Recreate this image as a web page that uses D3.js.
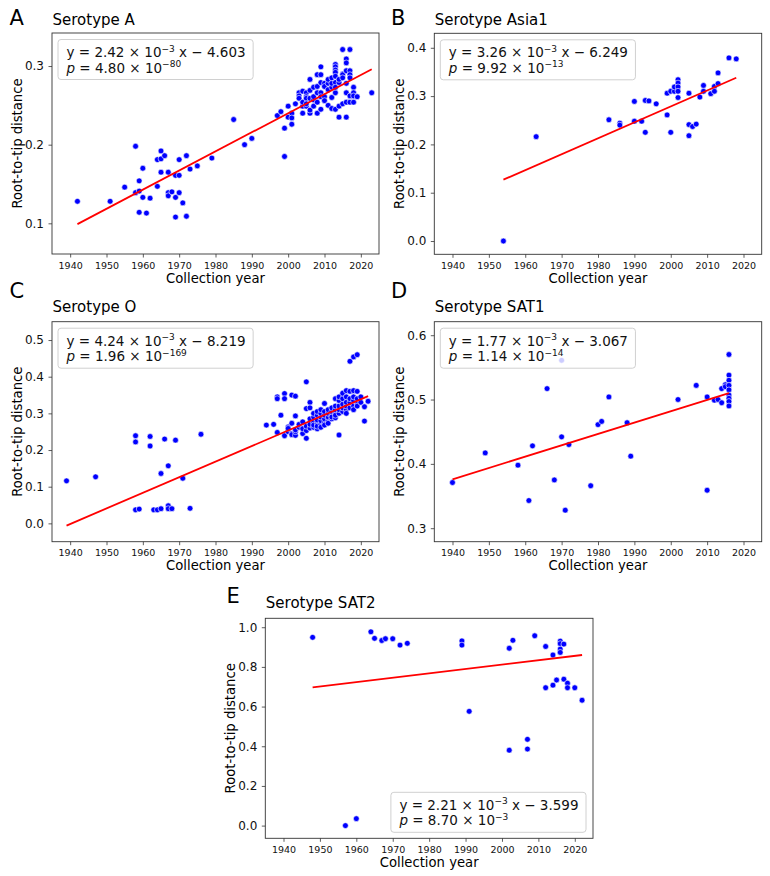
<!DOCTYPE html>
<html>
<head>
<meta charset="utf-8">
<script src="https://cdn.jsdelivr.net/npm/d3@7"></script>
<style>
  body { margin: 0; background: #fff; }
  svg text { font-family: "DejaVu Sans", sans-serif; }
</style>
</head>
<body>
<svg id="chart" width="770" height="876"></svg>
<script>
// root-to-tip distance vs collection year, one pair of arrays per serotype
const yearsA = [1942,1951,1955,1958,1958,1959,1959,1959,1960,1960,1961,1962,1964,1964,1965,1965,1965,1966,
  1967,1967,1967,1968,1969,1969,1969,1970,1970,1970,1971,1972,1972,1973,1975,1979,1985,1988,1990,1997,1998,
  1999,1999,2000,2000,2001,2001,2001,2002,2003,2003,2003,2004,2004,2004,2004,2005,2005,2005,2005,2005,
  2006,2006,2006,2006,2006,2007,2007,2007,2007,2008,2008,2008,2008,2008,2009,2009,2009,2009,2009,2009,
  2010,2010,2010,2010,2011,2011,2011,2011,2012,2012,2012,2012,2012,
  2013,2013,2013,2013,2013,2013,2013,2013,2013,2014,2014,2014,2014,2015,2015,2015,2015,2015,
  2016,2016,2016,2016,2016,2016,2016,2017,2017,2017,2017,2017,2017,2018,2018,2018,2018,2019,2023];
const distA = [0.128,0.128,0.146,0.198,0.139,0.154,0.141,0.114,0.170,0.133,0.113,0.132,0.181,0.147,0.192,0.182,0.165,0.186,
  0.165,0.139,0.135,0.140,0.161,0.133,0.108,0.181,0.161,0.139,0.126,0.186,0.109,0.169,0.173,0.183,0.232,0.200,0.208,0.237,0.242,
  0.185,0.221,0.249,0.235,0.240,0.234,0.226,0.252,0.266,0.262,0.259,0.240,0.249,0.254,0.268,0.266,0.261,0.249,0.259,0.252,
  0.283,0.269,0.259,0.240,0.244,0.273,0.257,0.249,0.261,0.289,0.266,0.254,0.240,0.274,0.299,0.289,0.279,0.266,0.261,0.245,
  0.278,0.261,0.256,0.274,0.278,0.250,0.270,0.283,0.273,0.278,0.260,0.246,0.285,
  0.302,0.299,0.295,0.292,0.287,0.279,0.266,0.245,0.273,0.279,0.249,0.283,0.235,0.321,0.290,0.289,0.252,0.285,
  0.309,0.304,0.294,0.278,0.254,0.235,0.266,0.321,0.294,0.289,0.285,0.254,0.262,0.273,0.266,0.254,0.262,0.261,0.266];

const yearsB = [1954,1963,1983,1986,1986,1990,1990,1992,1993,1993,1994,1996,1999,1999,2000,2000,2001,2001,
  2002,2002,2002,2002,2002,2005,2005,2005,2006,2007,2008,2009,2009,2011,2012,2012,2013,2013,2016,2018];
const distB = [0.000,0.216,0.251,0.244,0.240,0.289,0.248,0.248,0.291,0.225,0.290,0.284,0.306,0.261,0.225,0.310,0.310,0.319,
  0.334,0.327,0.319,0.310,0.297,0.306,0.241,0.218,0.237,0.242,0.298,0.322,0.310,0.305,0.320,0.310,0.348,0.326,0.379,0.377];

const yearsC = [1939,1947,1958,1958,1958,1959,1962,1962,1963,1964,1965,1965,1966,1967,1967,1967,1968,1969,1971,1973,1976,
  1994,1996,1997,1997,1997,1998,1999,1999,1999,2000,2000,2000,
  2001,2001,2001,2001,2002,2002,2002,2002,2002,2003,2003,2004,2004,2004,
  2005,2005,2005,2005,2005,2006,2006,2006,2006,2006,2007,2007,2007,2007,2007,
  2008,2008,2008,2008,2008,2008,2009,2009,2009,2009,2009,2009,2010,2010,2010,2010,2010,2010,
  2011,2011,2011,2011,2011,2012,2012,2012,2012,2012,2013,2013,2013,2013,2013,2013,
  2014,2014,2014,2014,2014,2014,2015,2015,2015,2015,2015,2016,2016,2016,2016,2016,2016,
  2017,2017,2017,2017,2017,2018,2018,2018,2018,2018,2018,2019,2019,2019,2019,2019,
  2020,2020,2021,2021,2022];
const distC = [0.116,0.127,0.239,0.222,0.037,0.039,0.237,0.211,0.037,0.037,0.040,0.136,0.230,0.157,0.048,0.040,0.040,0.227,0.123,0.041,0.243,
  0.268,0.270,0.345,0.340,0.248,0.295,0.354,0.340,0.239,0.263,0.250,0.259,
  0.350,0.273,0.245,0.242,0.347,0.293,0.240,0.250,0.255,0.262,0.270,0.277,0.245,0.258,
  0.386,0.232,0.253,0.313,0.265,0.330,0.315,0.260,0.270,0.285,0.262,0.275,0.290,0.300,0.268,
  0.258,0.272,0.282,0.295,0.305,0.265,0.270,0.280,0.290,0.300,0.310,0.262,0.275,0.285,0.295,0.305,0.327,0.268,
  0.280,0.290,0.300,0.310,0.273,0.285,0.295,0.305,0.315,0.290,0.300,0.310,0.320,0.340,0.288,0.295,
  0.241,0.300,0.310,0.320,0.335,0.345,0.305,0.315,0.325,0.340,0.355,0.310,0.320,0.330,0.345,0.300,0.362,
  0.442,0.315,0.330,0.340,0.360,0.454,0.320,0.335,0.345,0.362,0.310,0.460,0.325,0.340,0.360,0.320,
  0.330,0.345,0.279,0.318,0.333];

const yearsD = [1940,1949,1958,1961,1962,1966,1968,1970,1970,1971,1972,1978,1980,1981,1983,1988,1989,2002,2007,
  2010,2010,2012,2013,2014,2014,2015,2015,2016,2016,2016,2016,2016,2016,2016,2016,2016];
const distD = [0.371,0.417,0.398,0.343,0.428,0.517,0.375,0.442,0.561,0.328,0.430,0.366,0.461,0.466,0.504,0.464,0.412,0.500,0.522,
  0.504,0.359,0.499,0.500,0.517,0.495,0.523,0.520,0.570,0.538,0.530,0.522,0.515,0.507,0.502,0.497,0.490];

const yearsE = [1948,1957,1960,1964,1965,1967,1968,1970,1972,1974,1989,1989,1991,2002,2002,2003,2007,2007,2009,
  2012,2012,2014,2014,2015,2016,2016,2016,2016,2017,2017,2018,2018,2020,2022];
const distE = [0.949,0.000,0.035,0.977,0.944,0.933,0.942,0.942,0.910,0.919,0.931,0.910,0.576,0.894,0.380,0.934,0.435,0.386,0.957,
  0.903,0.695,0.860,0.708,0.734,0.930,0.917,0.890,0.873,0.915,0.738,0.718,0.695,0.695,0.632];

// fitted regression lines: [start year, start value, end year, end value]
const fitA = [1942, 0.099, 2023, 0.296];
const fitB = [1954, 0.127, 2018, 0.338];
const fitC = [1939, -0.006, 2022, 0.347];
const fitD = [1940, 0.376, 2016, 0.510];
const fitE = [1948, 0.697, 2022, 0.860];

// equation text pieces
const slopes = ["2.42", "3.26", "4.24", "1.77", "2.21"];
const intercepts = ["4.603", "6.249", "8.219", "3.067", "3.599"];
const pMantissas = ["4.80", "9.92", "1.96", "1.14", "8.70"];
const pExponents = ["\u221280", "\u221213", "\u2212169", "\u221214", "\u22123"];

const panelLetters = ["A", "B", "C", "D", "E"];
const panelTitles = ["Serotype A", "Serotype Asia1", "Serotype O", "Serotype SAT1", "Serotype SAT2"];

const xTicks = [1940, 1950, 1960, 1970, 1980, 1990, 2000, 2010, 2020];
const yTicksA = [0.1, 0.2, 0.3];
const yTicksB = [0.0, 0.1, 0.2, 0.3, 0.4];
const yTicksC = [0.0, 0.1, 0.2, 0.3, 0.4, 0.5];
const yTicksD = [0.3, 0.4, 0.5, 0.6];
const yTicksE = [0.0, 0.2, 0.4, 0.6, 0.8, 1.0];

const xDomain = [1935, 2025];

const panels = [
  { years: yearsA, dist: distA, fit: fitA, ticks: yTicksA, ylim: [0.061, 0.342],
    left: 52, top: 33, right: 379, bottom: 254, letterPos: [9.5, 25], titleY: 24.5, legend: "ul" },
  { years: yearsB, dist: distB, fit: fitB, ticks: yTicksB, ylim: [-0.0275, 0.43],
    left: 434.3, top: 33.3, right: 761.7, bottom: 254.3, letterPos: [391, 25], titleY: 24.5, legend: "ul" },
  { years: yearsC, dist: distC, fit: fitC, ticks: yTicksC, ylim: [-0.05, 0.55],
    left: 52, top: 321.7, right: 379, bottom: 541.7, letterPos: [9.5, 297.5], titleY: 311.7, legend: "ul" },
  { years: yearsD, dist: distD, fit: fitD, ticks: yTicksD, ylim: [0.279, 0.621],
    left: 434.3, top: 321.7, right: 761.7, bottom: 541.7, letterPos: [391, 297.5], titleY: 311.7, legend: "ul" },
  { years: yearsE, dist: distE, fit: fitE, ticks: yTicksE, ylim: [-0.064, 1.045],
    left: 265.3, top: 618.3, right: 593, bottom: 838.3, letterPos: [226.5, 603.3], titleY: 607.7, legend: "lr" }
];

const svg = d3.select("#chart");
const frameColor = "#333";

function drawPanel(p, i) {
  const x = d3.scaleLinear().domain(xDomain).range([p.left, p.right]);
  const y = d3.scaleLinear().domain(p.ylim).range([p.bottom, p.top]);
  const g = svg.append("g");

  // x axis
  const gx = g.append("g")
    .attr("transform", "translate(0," + p.bottom + ")")
    .call(d3.axisBottom(x).tickValues(xTicks).tickFormat(d3.format("d")).tickSize(3.5).tickPadding(4.5));
  gx.select(".domain").remove();
  gx.selectAll("line").attr("stroke", frameColor).attr("stroke-width", 0.8);
  gx.selectAll("text").attr("font-size", 9.5).attr("font-family", "DejaVu Sans").attr("fill", "#111");

  // y axis
  const gy = g.append("g")
    .attr("transform", "translate(" + p.left + ",0)")
    .call(d3.axisLeft(y).tickValues(p.ticks).tickFormat(d3.format(".1f")).tickSize(3.5).tickPadding(4.5));
  gy.select(".domain").remove();
  gy.selectAll("line").attr("stroke", frameColor).attr("stroke-width", 0.8);
  gy.selectAll("text").attr("font-size", 12).attr("font-family", "DejaVu Sans").attr("fill", "#111");

  // axis labels
  g.append("text")
    .attr("x", (p.left + p.right) / 2)
    .attr("y", p.bottom + 28.5)
    .attr("text-anchor", "middle")
    .attr("font-size", 13.2)
    .text("Collection year");
  g.append("text")
    .attr("transform", "translate(" + (p.left - 30.5) + "," + (p.top + p.bottom) / 2 + ") rotate(-90)")
    .attr("text-anchor", "middle")
    .attr("font-size", 13.2)
    .text("Root-to-tip distance");

  // title + panel letter
  g.append("text")
    .attr("x", p.left + 0.5)
    .attr("y", p.titleY)
    .attr("font-size", 15)
    .text(panelTitles[i]);
  g.append("text")
    .attr("x", p.letterPos[0])
    .attr("y", p.letterPos[1])
    .attr("font-size", 21)
    .text(panelLetters[i]);

  // scatter
  const pts = p.years.map((yr, k) => ({ yr: yr, v: p.dist[k] }));
  g.append("g").selectAll("circle")
    .data(pts)
    .enter()
    .append("circle")
    .attr("cx", (d) => x(d.yr))
    .attr("cy", (d) => y(d.v))
    .attr("r", 2.9)
    .attr("fill", "#0000ff")
    .attr("stroke", "#fff")
    .attr("stroke-width", 0.6);

  // regression line
  g.append("line")
    .attr("x1", x(p.fit[0])).attr("y1", y(p.fit[1]))
    .attr("x2", x(p.fit[2])).attr("y2", y(p.fit[3]))
    .attr("stroke", "#ff0000")
    .attr("stroke-width", 1.8);

  // frame
  g.append("rect")
    .attr("x", p.left).attr("y", p.top)
    .attr("width", p.right - p.left).attr("height", p.bottom - p.top)
    .attr("fill", "none")
    .attr("stroke", frameColor)
    .attr("stroke-width", 0.9);

  // equation box
  const lg = g.append("g");
  const box = lg.append("rect");
  const txt = lg.append("text").attr("font-size", 13.5).attr("fill", "#111");
  const l1 = txt.append("tspan").attr("x", 0).attr("y", 0);
  l1.append("tspan").text("y = " + slopes[i] + " \u00d7 10");
  l1.append("tspan").attr("font-size", 9).attr("dy", -5.5).text("\u22123");
  l1.append("tspan").attr("dy", 5.5).text(" x \u2212 " + intercepts[i]);
  const l2 = txt.append("tspan").attr("x", 0).attr("y", 15.5);
  l2.append("tspan").attr("font-style", "italic").text("p");
  l2.append("tspan").text(" = " + pMantissas[i] + " \u00d7 10");
  l2.append("tspan").attr("font-size", 9).attr("dy", -5.5).text(pExponents[i]);

  const bb = txt.node().getBBox();
  const padX = 7.5, padY = 4;
  const bw = bb.width + padX * 2;
  const bh = bb.height + padY * 2;
  let bx, by;
  if (p.legend === "ul") {
    bx = p.left + 6;
    by = p.top + 6.5;
  } else {
    bx = p.right - 7 - bw;
    by = p.bottom - 6 - bh;
  }
  txt.attr("transform", "translate(" + (bx + padX - bb.x) + "," + (by + padY - bb.y) + ")");
  box.attr("x", bx).attr("y", by).attr("width", bw).attr("height", bh)
    .attr("rx", 3)
    .attr("fill", "#fff").attr("fill-opacity", 0.8)
    .attr("stroke", "#d0d0d0").attr("stroke-width", 1);
}

panels.forEach(drawPanel);
</script>
</body>
</html>
